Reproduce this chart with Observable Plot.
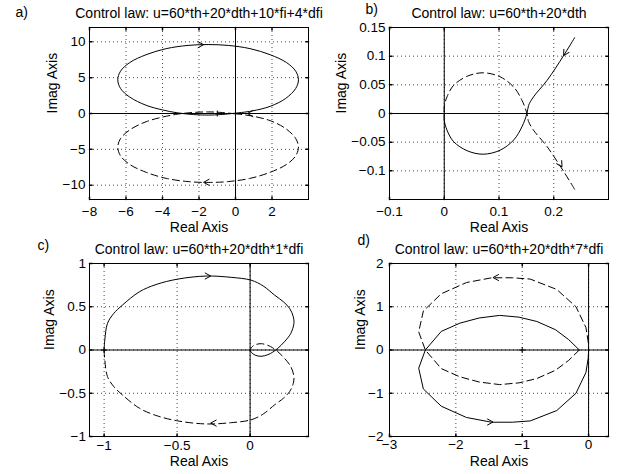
<!DOCTYPE html>
<html><head><meta charset="utf-8">
<script src="https://cdn.jsdelivr.net/npm/d3@7"></script>
<script src="https://cdn.jsdelivr.net/npm/@observablehq/plot@0.6"></script>
<style>
body{margin:0;background:#fff}
#wrap{position:relative;width:620px;height:474px;overflow:hidden;background:#fff;font-family:"Liberation Sans",Arial,Helvetica,sans-serif}
#wrap svg{position:absolute}
</style></head><body><div id="wrap"></div>
<script>
// ---------- Panel a ----------
const aTitle = "Control law: u=60*th+20*dth+10*fi+4*dfi";
const aTicksX = [-8, -6, -4, -2, 0, 2];
const aTickLabelsX = ["−8", "−6", "−4", "−2", "0", "2"];
const aTicksY = [-10, -5, 0, 5, 10];
const aTickLabelsY = ["−10", "−5", "0", "5", "10"];
const aSolid = [[0.0,0.05],[-0.8,-0.15],[-1.5,-0.22],[-2.3,-0.15],[-3.2,0.1],[-4.0,0.5],[-4.9,1.15],[-5.8,2.3],[-6.3,3.5],[-6.45,4.7],[-6.3,5.9],[-5.8,7.1],[-4.9,8.2],[-3.8,9.05],[-2.6,9.5],[-1.5,9.62],[-0.4,9.5],[0.8,9.05],[1.9,8.2],[2.8,7.1],[3.3,5.9],[3.45,4.7],[3.3,3.5],[2.75,2.1],[1.9,1.0],[0.9,0.35],[0.0,0.05]];
const aDashed = [[0.0,-0.05],[-0.8,0.15],[-1.5,0.22],[-2.3,0.15],[-3.2,-0.1],[-4.0,-0.5],[-4.9,-1.15],[-5.8,-2.3],[-6.3,-3.5],[-6.45,-4.7],[-6.3,-5.9],[-5.8,-7.1],[-4.9,-8.2],[-3.8,-9.05],[-2.6,-9.5],[-1.5,-9.62],[-0.4,-9.5],[0.8,-9.05],[1.9,-8.2],[2.8,-7.1],[3.3,-5.9],[3.45,-4.7],[3.3,-3.5],[2.75,-2.1],[1.9,-1.0],[0.9,-0.35],[0.0,-0.05]];
const aArrows = [[-1.75, 9.6, 90], [-1.75, -9.6, 270], [0.65, 0.0, 270]];
const aMinusOne = [[-1, 0]];

// ---------- Panel b ----------
const bTitle = "Control law: u=60*th+20*dth";
const bTicksX = [-0.1, 0, 0.1, 0.2];
const bTickLabelsX = ["−0.1", "0", "0.1", "0.2"];
const bTicksY = [-0.1, -0.05, 0, 0.05, 0.1, 0.15];
const bTickLabelsY = ["−0.1", "−0.05", "0", "0.05", "0.1", "0.15"];
const bSolid = [[0.238,0.132],[0.218,0.101],[0.188,0.058],[0.163,0.029],[0.154,0.014],[0.151,0.0],[0.142,-0.023],[0.127,-0.046],[0.102,-0.064],[0.071,-0.071],[0.042,-0.065],[0.017,-0.049],[0.005,-0.029],[0.0,-0.012],[0.0,0.0]];
const bDashed = [[0.238,-0.132],[0.218,-0.101],[0.188,-0.058],[0.163,-0.029],[0.154,-0.014],[0.151,0.0],[0.142,0.023],[0.127,0.046],[0.102,0.064],[0.071,0.071],[0.042,0.065],[0.017,0.049],[0.005,0.029],[0.0,0.012],[0.0,0.0]];
const bArrows = [[0.218, 0.101, 211], [0.215, -0.093, 149]];

// ---------- Panel c ----------
const cTitle = "Control law: u=60*th+20*dth*1*dfi";
const cTicksX = [-1, -0.5, 0];
const cTickLabelsX = ["−1", "−0.5", "0"];
const cTicksY = [-1, -0.5, 0, 0.5, 1];
const cTickLabelsY = ["−1", "−0.5", "0", "0.5", "1"];
const cSolid = [[-1.0,0.0],[-0.995,0.12],[-0.977,0.307],[-0.935,0.42],[-0.874,0.52],[-0.759,0.672],[-0.644,0.757],[-0.494,0.82],[-0.3,0.855],[-0.13,0.84],[0.007,0.807],[0.09,0.74],[0.168,0.634],[0.23,0.555],[0.271,0.48],[0.295,0.39],[0.30,0.307],[0.278,0.19],[0.235,0.095],[0.19,0.02],[0.155,-0.025],[0.122,-0.054],[0.076,-0.073],[0.035,-0.06],[0.01,-0.03],[0.0,0.0]];
const cDashed = [[-1.0,0.0],[-0.995,-0.12],[-0.977,-0.307],[-0.935,-0.42],[-0.874,-0.52],[-0.759,-0.672],[-0.644,-0.757],[-0.494,-0.82],[-0.3,-0.855],[-0.13,-0.84],[0.007,-0.807],[0.09,-0.74],[0.168,-0.634],[0.23,-0.555],[0.271,-0.48],[0.295,-0.39],[0.30,-0.307],[0.278,-0.19],[0.235,-0.095],[0.19,-0.02],[0.155,0.025],[0.122,0.054],[0.076,0.073],[0.035,0.06],[0.01,0.03],[0.0,0.0]];
const cArrows = [[-0.27, 0.855, 90], [-0.27, -0.845, 270]];
const cMinusOne = [[-1, 0]];

// ---------- Panel d ----------
const dTitle = "Control law: u=60*th+20*dth*7*dfi";
const dTicksX = [-3, -2, -1, 0];
const dTickLabelsX = ["−3", "−2", "−1", "0"];
const dTicksY = [-2, -1, 0, 1, 2];
const dTickLabelsY = ["−2", "−1", "0", "1", "2"];
const dSolid = [[-0.14,0.0],[-0.3,0.24],[-0.5,0.47],[-0.78,0.66],[-1.05,0.76],[-1.34,0.80],[-1.65,0.74],[-1.94,0.62],[-2.22,0.43],[-2.46,0.0],[-2.56,-0.42],[-2.49,-0.9],[-2.22,-1.3],[-1.84,-1.56],[-1.46,-1.67],[-1.15,-1.67],[-0.88,-1.64],[-0.48,-1.4],[-0.19,-1.0],[-0.04,-0.52],[-0.006,-0.19],[0.0,0.0]];
const dDashed = [[-0.14,0.0],[-0.3,-0.24],[-0.5,-0.47],[-0.78,-0.66],[-1.05,-0.76],[-1.34,-0.80],[-1.65,-0.74],[-1.94,-0.62],[-2.22,-0.43],[-2.46,0.0],[-2.56,0.42],[-2.49,0.9],[-2.22,1.3],[-1.84,1.56],[-1.46,1.67],[-1.15,1.67],[-0.88,1.64],[-0.48,1.4],[-0.19,1.0],[-0.04,0.52],[-0.006,0.19],[0.0,0.0]];
const dArrows = [[-1.44, -1.665, 90], [-1.44, 1.675, 270]];
const dMinusOne = [[-1, 0]];

// ---------- drawing helpers ----------
const chevron = {draw(ctx) { ctx.moveTo(-3, 5.5); ctx.lineTo(0, 0); ctx.lineTo(3, 5.5); }};
const tickLine = {draw(ctx, l) { ctx.moveTo(0, 0); ctx.lineTo(0, -l); }};
const plus = {draw(ctx) { const r = 3; ctx.moveTo(-r, 0); ctx.lineTo(r, 0); ctx.moveTo(0, -r); ctx.lineTo(0, r); }};
const FONT = '"Liberation Sans", Arial, Helvetica, sans-serif';

function panel(o) {
  const inner = (v, dom) => v.filter(t => t > dom[0] + 1e-9 && t < dom[1] - 1e-9);
  const M = "middle";
  const marks = [
    Plot.gridX(inner(o.ticksX, o.xDomain), {stroke: "#333", strokeOpacity: 0.9, strokeDasharray: "1,3"}),
    Plot.gridY(inner(o.ticksY, o.yDomain), {stroke: "#333", strokeOpacity: 0.9, strokeDasharray: "1,3"}),
    Plot.ruleX([0], {stroke: "black", strokeWidth: 1}),
    Plot.ruleY([0], {stroke: "black", strokeWidth: 1}),
    Plot.line(o.solid, {x: d => d[0], y: d => d[1], curve: o.curve, stroke: "black", strokeWidth: 1, clip: true}),
    Plot.line(o.dashed, {x: d => d[0], y: d => d[1], curve: o.curve, stroke: "black", strokeWidth: 1, strokeDasharray: "7,4", clip: true}),
    Plot.vector(o.arrows, {x: d => d[0], y: d => d[1], rotate: d => d[2], length: 5, anchor: "start", shape: chevron, stroke: "black", strokeWidth: 1}),
    Plot.vector(o.ticksX, {x: d => d, frameAnchor: "bottom", rotate: 0, length: 2.5, anchor: "start", shape: tickLine, stroke: "black"}),
    Plot.vector(o.ticksX, {x: d => d, frameAnchor: "top", rotate: 180, length: 2.5, anchor: "start", shape: tickLine, stroke: "black"}),
    Plot.vector(o.ticksY, {y: d => d, frameAnchor: "left", rotate: 90, length: 2.5, anchor: "start", shape: tickLine, stroke: "black"}),
    Plot.vector(o.ticksY, {y: d => d, frameAnchor: "right", rotate: 270, length: 2.5, anchor: "start", shape: tickLine, stroke: "black"}),
    Plot.frame({stroke: "black", strokeWidth: 1}),
    Plot.text(o.ticksX, {x: d => d, text: (d, i) => o.labelsX[i], frameAnchor: "bottom", lineAnchor: M, dy: o.xLabDy, fontSize: 13.5}),
    Plot.text(o.ticksY, {y: d => d, text: (d, i) => o.labelsY[i], frameAnchor: "left", lineAnchor: M, dx: -o.yLabGap, textAnchor: "end", fontSize: 13.5}),
    Plot.text([o.title], {frameAnchor: "top", lineAnchor: M, dy: o.titleDy, fontSize: 14}),
    Plot.text(["Real Axis"], {frameAnchor: "bottom", lineAnchor: M, dy: o.realDy, fontSize: 14}),
    Plot.text(["Imag Axis"], {frameAnchor: "left", lineAnchor: M, dx: o.imagDx, rotate: -90, fontSize: 14}),
    Plot.text([o.tag], {frameAnchor: "top-left", lineAnchor: M, dx: o.tagX - 89, dy: o.tagDy, textAnchor: "start", fontSize: 14})
  ];
  if (o.minusOne) marks.push(Plot.dot(o.minusOne, {x: d => d[0], y: d => d[1], symbol: plus, fill: "none", stroke: "black", strokeWidth: 1}));
  const svg = Plot.plot({
    width: o.width, height: 237,
    marginLeft: 89, marginRight: o.width - 308, marginTop: o.top, marginBottom: 38,
    x: {domain: o.xDomain, axis: null},
    y: {domain: o.yDomain, axis: null},
    style: {fontFamily: FONT, background: "transparent", overflow: "visible", color: "black"},
    marks
  });
  svg.style.left = o.left + "px";
  svg.style.top = o.topPos + "px";
  document.getElementById("wrap").appendChild(svg);
}

panel({left: 0, topPos: 0, width: 310, top: 27, xDomain: [-8, 4], yDomain: [-12, 12],
  ticksX: aTicksX, labelsX: aTickLabelsX, ticksY: aTicksY, labelsY: aTickLabelsY,
  solid: aSolid, dashed: aDashed, arrows: aArrows, minusOne: aMinusOne, curve: "catmull-rom",
  title: aTitle, tag: "a)", tagX: 15, tagDy: -15, titleDy: -14, xLabDy: 12.5, realDy: 28, imagDx: -36.5, yLabGap: 4});
panel({left: 300, topPos: 0, width: 320, top: 27, xDomain: [-0.1, 0.3], yDomain: [-0.15, 0.15],
  ticksX: bTicksX, labelsX: bTickLabelsX, ticksY: bTicksY, labelsY: bTickLabelsY,
  solid: bSolid, dashed: bDashed, arrows: bArrows, minusOne: null, curve: "catmull-rom",
  title: bTitle, tag: "b)", tagX: 65, tagDy: -18.3, titleDy: -14, xLabDy: 12.5, realDy: 28, imagDx: -48, yLabGap: 4});
panel({left: 0, topPos: 237, width: 310, top: 26, xDomain: [-1.1, 0.4], yDomain: [-1, 1],
  ticksX: cTicksX, labelsX: cTickLabelsX, ticksY: cTicksY, labelsY: cTickLabelsY,
  solid: cSolid, dashed: cDashed, arrows: cArrows, minusOne: cMinusOne, curve: "catmull-rom",
  title: cTitle, tag: "c)", tagX: 37, tagDy: -18, titleDy: -13.5, xLabDy: 9.5, realDy: 25, imagDx: -40, yLabGap: 3.5});
panel({left: 300, topPos: 237, width: 320, top: 26, xDomain: [-3, 0.3], yDomain: [-2, 2],
  ticksX: dTicksX, labelsX: dTickLabelsX, ticksY: dTicksY, labelsY: dTickLabelsY,
  solid: dSolid, dashed: dDashed, arrows: dArrows, minusOne: dMinusOne, curve: "linear",
  title: dTitle, tag: "d)", tagX: 57, tagDy: -23, titleDy: -14.3, xLabDy: 8.5, realDy: 25, imagDx: -28.5, yLabGap: 6});
</script></body></html>
